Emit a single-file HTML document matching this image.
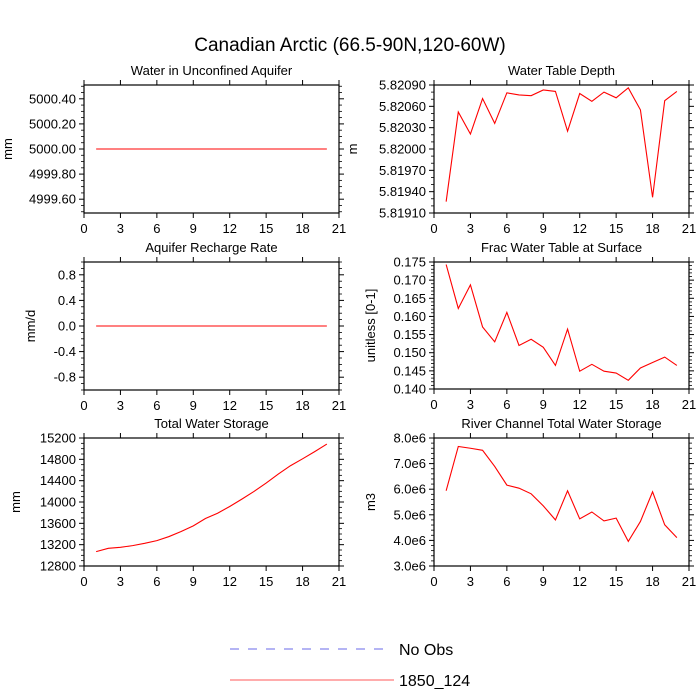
<!DOCTYPE html>
<html><head><meta charset="utf-8"><style>
html,body{margin:0;padding:0;background:#fff;}
svg{display:block;font-family:"Liberation Sans",sans-serif;}
</style></head><body>
<svg id="chart" width="700" height="700" viewBox="0 0 700 700" xmlns="http://www.w3.org/2000/svg">
<text x="350" y="51" text-anchor="middle" font-size="19">Canadian Arctic (66.5-90N,120-60W)</text>
<g id="panels"></g>
<g>
<line x1="230" y1="649" x2="388" y2="649" stroke="#6a6ae8" stroke-width="1" stroke-dasharray="9,9"/>
<text x="399" y="655" font-size="16">No Obs</text>
<line x1="230" y1="680" x2="394" y2="680" stroke="#ff5a5a" stroke-width="1"/>
<text x="399" y="686" font-size="16">1850_124</text>
</g>
</svg>
<script>
const years = [1,2,3,4,5,6,7,8,9,10,11,12,13,14,15,16,17,18,19,20];
const xTicks = [0,3,6,9,12,15,18,21];
const aquiferWater = [5000,5000,5000,5000,5000,5000,5000,5000,5000,5000,5000,5000,5000,5000,5000,5000,5000,5000,5000,5000];
const aquiferTicks = ["4999.60","4999.80","5000.00","5000.20","5000.40"];
const waterTableDepth = [5.81926,5.82052,5.82021,5.82071,5.82036,5.82079,5.82076,5.82075,5.82083,5.82081,5.82025,5.82078,5.82067,5.82080,5.82072,5.82086,5.82055,5.81932,5.82068,5.82081];
const wtdTicks = ["5.81910","5.81940","5.81970","5.82000","5.82030","5.82060","5.82090"];
const rechargeRate = [0,0,0,0,0,0,0,0,0,0,0,0,0,0,0,0,0,0,0,0];
const rechargeTicks = ["-0.8","-0.4","0.0","0.4","0.8"];
const fracWaterTable = [0.1743,0.1622,0.1687,0.1571,0.1530,0.1611,0.1520,0.1537,0.1515,0.1465,0.1565,0.1449,0.1468,0.1449,0.1444,0.1424,0.1458,0.1473,0.1488,0.1465];
const fracTicks = ["0.140","0.145","0.150","0.155","0.160","0.165","0.170","0.175"];
const totalWaterStorage = [13069,13132,13151,13182,13226,13276,13352,13446,13552,13690,13790,13916,14054,14198,14355,14524,14680,14810,14945,15087];
const twsTicks = ["12800","13200","13600","14000","14400","14800","15200"];
const riverStorage = [5.94e6,7.67e6,7.60e6,7.52e6,6.89e6,6.16e6,6.04e6,5.82e6,5.35e6,4.80e6,5.94e6,4.84e6,5.11e6,4.76e6,4.87e6,3.96e6,4.74e6,5.90e6,4.61e6,4.11e6];
const riverTicks = ["3.0e6","4.0e6","5.0e6","6.0e6","7.0e6","8.0e6"];

const NS="http://www.w3.org/2000/svg";
const root=document.getElementById('panels');
function mk(tag,attrs,parent){const e=document.createElementNS(NS,tag);for(const k in attrs)e.setAttribute(k,attrs[k]);parent.appendChild(e);return e;}

const panels=[
 {name:'water-in-unconfined-aquifer',title:'Water in Unconfined Aquifer',unit:'mm',ux:12,x0:84,y0:85,y1:213,ymin:4999.49,ymax:5000.51,data:aquiferWater,ticks:aquiferTicks,minor:4},
 {name:'water-table-depth',title:'Water Table Depth',unit:'m',ux:357,x0:434,y0:85,y1:213,ymin:5.81910,ymax:5.82090,data:waterTableDepth,ticks:wtdTicks,minor:3},
 {name:'aquifer-recharge-rate',title:'Aquifer Recharge Rate',unit:'mm/d',ux:35,x0:84,y0:262,y1:390,ymin:-1,ymax:1,data:rechargeRate,ticks:rechargeTicks,minor:4},
 {name:'frac-water-table',title:'Frac Water Table at Surface',unit:'unitless [0-1]',ux:375,x0:434,y0:262,y1:389,ymin:0.140,ymax:0.175,data:fracWaterTable,ticks:fracTicks,minor:5},
 {name:'total-water-storage',title:'Total Water Storage',unit:'mm',ux:20,x0:84,y0:438,y1:566,ymin:12800,ymax:15200,data:totalWaterStorage,ticks:twsTicks,minor:4},
 {name:'river-channel-storage',title:'River Channel Total Water Storage',unit:'m3',ux:375,x0:434,y0:438,y1:566,ymin:3.0e6,ymax:8.0e6,data:riverStorage,ticks:riverTicks,minor:5}
];

panels.forEach(p=>{
 const W=255;
 const g=mk('g',{},root);
 
 
 const sx=v=>p.x0+v/21*W;
 const sy=v=>p.y1-(v-p.ymin)/(p.ymax-p.ymin)*(p.y1-p.y0);
 const box=mk('rect',{x:p.x0,y:p.y0,width:W,height:p.y1-p.y0,fill:'none',stroke:'#000','stroke-width':1.2},g);
 
 
 const t=mk('text',{x:p.x0+W/2,y:p.y0-10,'text-anchor':'middle','font-size':13},g);
 t.textContent=p.title;
 
 
 const yc=(p.y0+p.y1)/2;
 const u=mk('text',{x:p.ux,y:yc,'text-anchor':'middle','font-size':13,transform:'rotate(-90 '+p.ux+' '+yc+')'},g);
 u.textContent=p.unit;
 
 
 xTicks.forEach(v=>{
  const x=sx(v);
  mk('line',{x1:x,y1:p.y1,x2:x,y2:p.y1+5,stroke:'#000'},g);
  mk('line',{x1:x,y1:p.y0,x2:x,y2:p.y0-5,stroke:'#000'},g);
  const l=mk('text',{x:x,y:p.y1+20,'text-anchor':'middle','font-size':13},g);
  l.textContent=String(v);
  
  
 });
 const tv=p.ticks.map(Number);
 const step=tv[1]-tv[0];
 for(let i=-1;i<tv.length;i++){
  for(let k=1;k<p.minor;k++){
   const v=tv[0]+(i+k/p.minor)*step;
   if(v<p.ymin||v>p.ymax)continue;
   const y=sy(v);
   mk('line',{x1:p.x0,y1:y,x2:p.x0-3,y2:y,stroke:'#000','stroke-width':0.8},g);
   mk('line',{x1:p.x0+W,y1:y,x2:p.x0+W+3,y2:y,stroke:'#000','stroke-width':0.8},g);
  }
 }
 p.ticks.forEach(s=>{
  const y=sy(Number(s));
  mk('line',{x1:p.x0,y1:y,x2:p.x0-5,y2:y,stroke:'#000'},g);
  mk('line',{x1:p.x0+W,y1:y,x2:p.x0+W+5,y2:y,stroke:'#000'},g);
  const l=mk('text',{x:p.x0-8,y:y+4.5,'text-anchor':'end','font-size':13},g);
  l.textContent=s;
  
  
 });
 const pts=p.data.map((v,i)=>sx(years[i]).toFixed(2)+','+sy(v).toFixed(2)).join(' ');
 const line=mk('polyline',{points:pts,fill:'none',stroke:'#ff0000','stroke-width':1.1},g);
 
 
});
</script>
</body></html>
